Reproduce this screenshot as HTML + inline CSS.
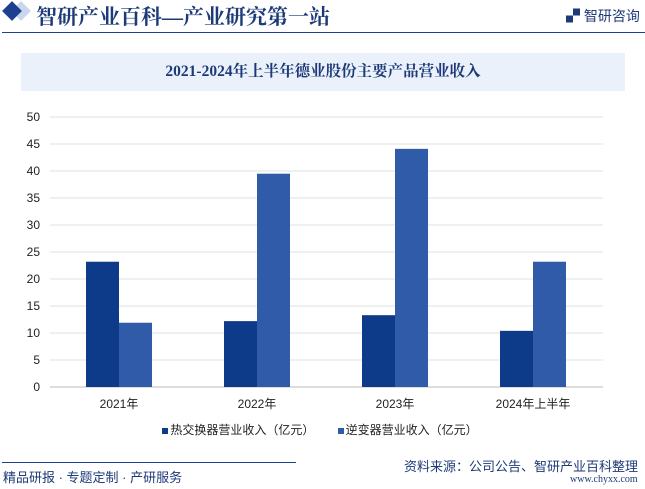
<!DOCTYPE html>
<html><head><meta charset="utf-8"><style>
body{margin:0;width:645px;height:489px;background:#fff;font-family:"Liberation Sans","Noto Sans CJK SC",sans-serif;overflow:hidden;position:relative}
.abs{position:absolute}
</style></head><body>
<div class="abs" style="left:14px;top:4px;width:14px;height:14px;background:#c9d6ee;transform:rotate(45deg)"></div>
<div class="abs" style="left:5px;top:4px;width:14px;height:14px;background:#1d3f8f;transform:rotate(45deg)"></div>
<div class="abs" style="left:36px;top:1px;font-size:21px;color:#1d3a78;font-family:'Liberation Serif','Noto Serif CJK SC',serif;font-weight:bold">智研产业百科—产业研究第一站</div>
<div class="abs" style="left:566px;top:6px;font-size:14px;color:#1d3a78">▞ 智研咨询</div>
<div class="abs" style="left:2px;top:32px;width:643px;height:1px;background:#1d3f8f"></div>
<div class="abs" style="left:21px;top:53px;width:604px;height:38px;background:#ebf1fb;text-align:center;line-height:38px;font-size:15.5px;font-weight:bold;color:#1d3a78;font-family:'Liberation Serif','Noto Serif CJK SC',serif">2021-2024年上半年德业股份主要产品营业收入</div>
<svg class="abs" style="left:0;top:0" width="645" height="489" id="chart"></svg>
<div class="abs" style="left:0;top:421px;width:645px;text-align:center;font-size:12px;color:#222">
<span style="margin-left:-5px"><span style="display:inline-block;width:6px;height:6px;background:#0e3a8a;margin-right:2px"></span>热交换器营业收入（亿元）</span>
<span style="margin-left:20px"><span style="display:inline-block;width:6px;height:6px;background:#2f5ba8;margin-right:2px"></span>逆变器营业收入（亿元）</span></div>
<div class="abs" style="left:2px;top:462px;width:294px;height:1px;background:#1d3f8f"></div>
<div class="abs" style="left:3px;top:467px;font-size:13px;color:#1d3a78">精品研报 · 专题定制 · 产研服务</div>
<div class="abs" style="left:404px;top:456px;font-size:13px;color:#1d3a78">资料来源：公司公告、智研产业百科整理</div>
<div class="abs" style="left:570px;top:474px;font-size:10px;color:#1d3a78;font-family:'Liberation Serif',serif">www.chyxx.com</div>
<script>
const categories=["2021年","2022年","2023年","2024年上半年"];
const heatExchanger=[23.2,12.2,13.3,10.4];
const inverter=[11.9,39.5,44.1,23.2];
const yTicks=[0,5,10,15,20,25,30,35,40,45,50];
const svg=document.getElementById('chart');const NS='http://www.w3.org/2000/svg';
const y=v=>387-v*5.4;const xc=i=>119+i*138;
function mk(t,a){const e=document.createElementNS(NS,t);for(const k in a)e.setAttribute(k,a[k]);svg.appendChild(e);return e;}
yTicks.forEach(v=>{const l=mk('line',{x1:50,x2:603,y1:y(v),y2:y(v),stroke:v===0?'#bbb':'#e0e0e0','stroke-width':1});


const t=mk('text',{x:40,y:y(v)+4,'text-anchor':'end','font-size':12,fill:'#222'});t.textContent=v;

});
categories.forEach((c,i)=>{
const a=mk('rect',{x:xc(i)-33,y:y(heatExchanger[i]),width:33,height:heatExchanger[i]*5.4,fill:'#0e3a8a'});


const b=mk('rect',{x:xc(i),y:y(inverter[i]),width:33,height:inverter[i]*5.4,fill:'#2f5ba8'});


const t=mk('text',{x:xc(i),y:408,'text-anchor':'middle','font-size':12,fill:'#222'});t.textContent=c;

});
</script>
</body></html>
